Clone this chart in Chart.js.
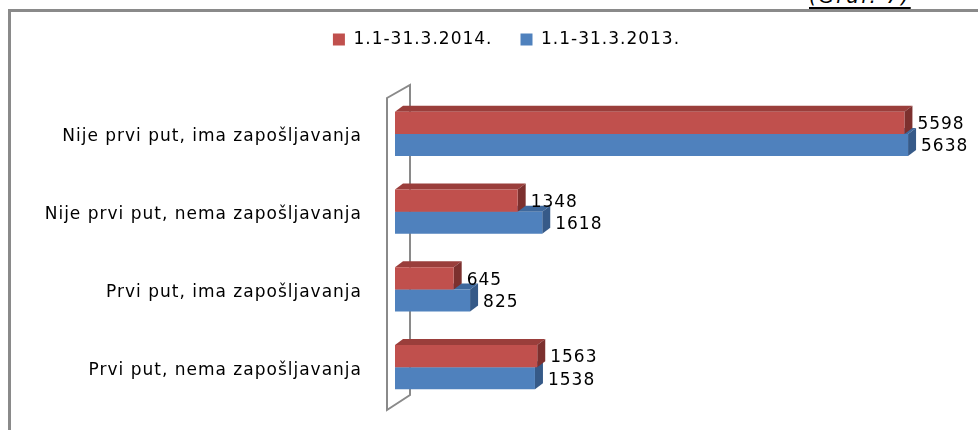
<!DOCTYPE html>
<html>
<head>
<meta charset="utf-8">
<script src="https://cdn.jsdelivr.net/npm/chart.js@4.4.1/dist/chart.umd.min.js"></script>
<style>
  html, body { margin: 0; padding: 0; background: #fff; }
  #wrap { position: relative; width: 978px; height: 430px; overflow: hidden; }
  #frame { position: absolute; left: 8px; top: 9px; width: 1100px; height: 600px; border: 3px solid #8a8a8a; }
  #graf {
    position: absolute; left: 809px; top: -14px;
    font: italic 20px "DejaVu Sans"; line-height: 20px; letter-spacing: 2px;
    text-decoration: underline; text-decoration-thickness: 2px; text-underline-offset: 4px;
    color: #000; white-space: nowrap;
  }
  #chart-box { position: absolute; left: 0; top: 0; width: 978px; height: 430px; }
</style>
</head>
<body>
<div id="wrap">
  <div id="frame"></div>
  <div id="graf">(Graf. 7)</div>
  <div id="chart-box"><canvas id="bars"></canvas></div>
</div>
<script>
  // data
  const categories = [
    'Nije prvi put, ima zapošljavanja',
    'Nije prvi put, nema zapošljavanja',
    'Prvi put, ima zapošljavanja',
    'Prvi put, nema zapošljavanja'
  ];
  const seriesNames = ['1.1-31.3.2014.', '1.1-31.3.2013.'];
  const values2014 = [5598, 1348, 645, 1563];
  const values2013 = [5638, 1618, 825, 1538];

  const DX = 8, DY = 6;
  const faces = [
    { top: '#9a3e3b', side: '#7c302e' },
    { top: '#3e689c', side: '#365a88' }
  ];

  // extra letter spacing, like the original rendering
  const spacing = {
    id: 'spacing',
    beforeLayout(c) { c.ctx.letterSpacing = '1px'; },
    beforeDraw(c) { c.ctx.letterSpacing = '1px'; }
  };

  // room under the legend, and legend nudged to where it sits in the original
  const legendSpace = {
    id: 'legendSpace',
    beforeInit(chart) {
      const fit = chart.legend.fit;
      chart.legend.fit = function () { fit.call(this); this.height = 95; };
    },
    afterLayout(chart) {
      const lg = chart.legend;
      lg.left += 36; lg.right += 36;
      lg.top += 3; lg.bottom += 3;
    }
  };

  // side wall + top and right faces of the bars
  const bar3d = {
    id: 'bar3d',
    beforeDatasetsDraw(chart) {
      const ctx = chart.ctx, a = chart.chartArea;
      ctx.save();
      ctx.strokeStyle = '#8a8a8a';
      ctx.lineWidth = 2;
      ctx.beginPath();
      ctx.moveTo(a.left - 8, a.top + 3);
      ctx.lineTo(a.left + 15, a.top - 10);
      ctx.lineTo(a.left + 15, a.bottom - 11);
      ctx.lineTo(a.left - 8, a.bottom + 4);
      ctx.closePath();
      ctx.stroke();
      for (let d = chart.data.datasets.length - 1; d >= 0; d--) {
        chart.getDatasetMeta(d).data.forEach(bar => {
          const p = bar.getProps(['x', 'y', 'base', 'height'], true);
          const top = p.y - p.height / 2, bottom = p.y + p.height / 2;
          ctx.fillStyle = faces[d].top;
          ctx.beginPath();
          ctx.moveTo(p.base, top);
          ctx.lineTo(p.base + DX, top - DY);
          ctx.lineTo(p.x + DX, top - DY);
          ctx.lineTo(p.x, top);
          ctx.closePath();
          ctx.fill();
          ctx.fillStyle = faces[d].side;
          ctx.beginPath();
          ctx.moveTo(p.x, top);
          ctx.lineTo(p.x + DX, top - DY);
          ctx.lineTo(p.x + DX, bottom - DY);
          ctx.lineTo(p.x, bottom);
          ctx.closePath();
          ctx.fill();
        });
      }
      ctx.restore();
    },
    afterDatasetsDraw(chart) {
      const ctx = chart.ctx;
      ctx.save();
      ctx.font = '17px "DejaVu Sans"';
      ctx.letterSpacing = '1px';
      ctx.fillStyle = '#000';
      ctx.textAlign = 'left';
      ctx.textBaseline = 'middle';
      chart.data.datasets.forEach((ds, d) => {
        chart.getDatasetMeta(d).data.forEach((bar, i) => {
          const p = bar.getProps(['x', 'y'], true);
          ctx.fillText(String(ds.data[i]), p.x + 13, p.y + 2);
        });
      });
      ctx.restore();
    }
  };

  new Chart(document.getElementById('bars'), {
    type: 'bar',
    data: {
      labels: categories,
      datasets: [
        { label: seriesNames[0], data: values2014, backgroundColor: '#c0504d', borderWidth: 0 },
        { label: seriesNames[1], data: values2013, backgroundColor: '#4f81bd', borderWidth: 0 }
      ]
    },
    options: {
      indexAxis: 'y',
      responsive: true,
      maintainAspectRatio: false,
      animation: false,
      categoryPercentage: 0.57,
      barPercentage: 1.0,
      layout: { padding: { top: 0, right: 37, bottom: 24, left: 0 } },
      plugins: {
        tooltip: { enabled: false },
        legend: {
          position: 'top',
          align: 'center',
          labels: {
            boxWidth: 12,
            boxHeight: 12,
            padding: 28,
            color: '#000',
            font: { family: 'DejaVu Sans', size: 17 }
          }
        }
      },
      scales: {
        x: { display: false, min: 0, max: 6000 },
        y: {
          grid: { display: false, drawTicks: false },
          border: { display: false },
          ticks: {
            padding: 33,
            labelOffset: 3,
            color: '#000',
            font: { family: 'DejaVu Sans', size: 17 }
          },
          afterFit(scale) {
            scale.width = 395;
            scale.paddingTop = 0;
            scale.paddingBottom = 0;
          }
        }
      }
    },
    plugins: [spacing, legendSpace, bar3d]
  });
</script>
</body>
</html>
